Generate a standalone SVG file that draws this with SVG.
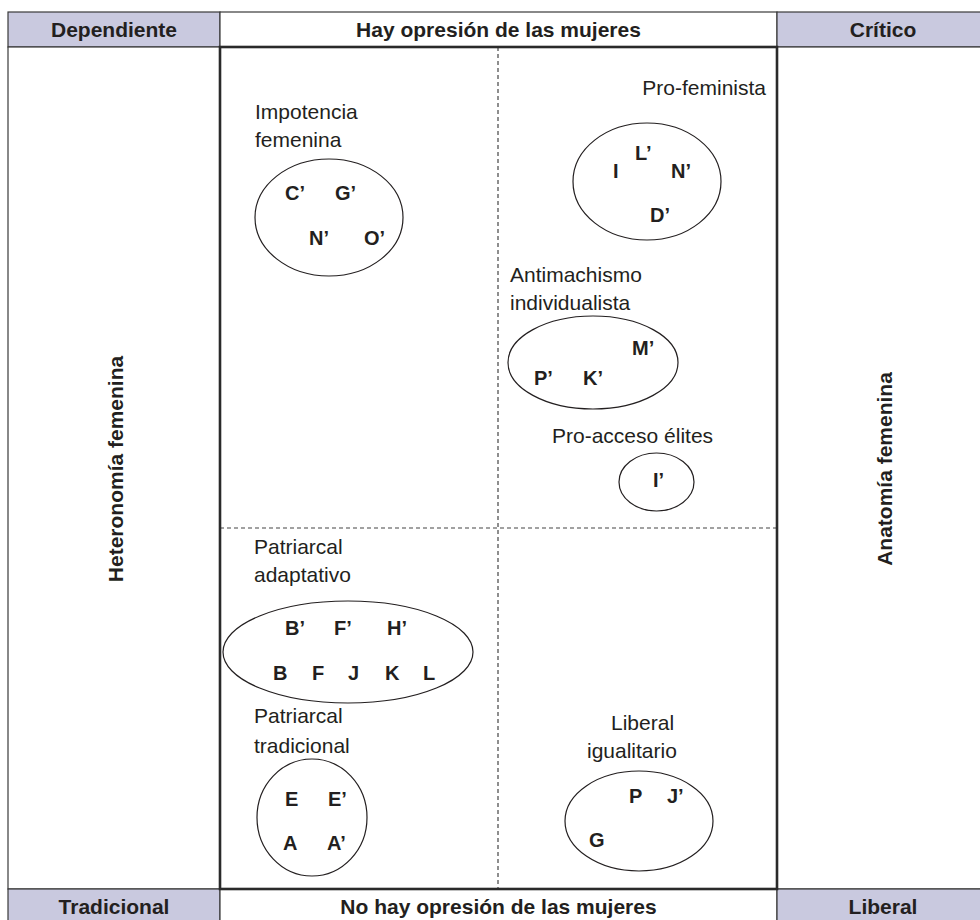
<svg xmlns="http://www.w3.org/2000/svg" width="980" height="920" viewBox="0 0 980 920">
<style>
.cell{fill:#c9c9df;stroke:#3a3a3a;stroke-width:1.2}
.wcell{fill:#ffffff;stroke:#3a3a3a;stroke-width:1.2}
.hd{font-family:"Liberation Sans",Arial,sans-serif;font-weight:bold;font-size:21px;fill:#231f20;text-anchor:middle}
.lbl{font-family:"Liberation Sans",Arial,sans-serif;font-size:21px;fill:#231f20}
.ltr{font-family:"Liberation Sans",Arial,sans-serif;font-weight:bold;font-size:20px;fill:#231f20}
.ell{fill:none;stroke:#231f20;stroke-width:1.2}
.dash{stroke:#444;stroke-width:1.2;stroke-dasharray:4 3;fill:none}
.box{fill:none;stroke:#2a2a2a;stroke-width:2.6}
</style>
<rect width="980" height="920" fill="#ffffff"/>
<g id="frame">
  <rect class="cell" x="8" y="12" width="212" height="35"/>
  <rect class="wcell" x="220" y="12" width="557" height="35"/>
  <rect class="cell" x="777" y="12" width="212" height="35"/>
  <rect class="wcell" x="8" y="47" width="212" height="842"/>
  <rect class="wcell" x="777" y="47" width="212" height="842"/>
  <rect class="cell" x="8" y="889" width="212" height="36"/>
  <rect class="wcell" x="220" y="889" width="557" height="36"/>
  <rect class="cell" x="777" y="889" width="212" height="36"/>
  <line class="dash" x1="498" y1="47" x2="498" y2="889"/>
  <line class="dash" x1="220" y1="528" x2="777" y2="528"/>
  <rect class="box" x="220" y="47" width="557" height="842"/>
</g>
<g id="headers">
  <text class="hd" x="114" y="37">Dependiente</text>
  <text class="hd" x="498.5" y="37">Hay opresión de las mujeres</text>
  <text class="hd" x="883" y="37">Crítico</text>
  <text class="hd" x="114" y="914">Tradicional</text>
  <text class="hd" x="498.5" y="914">No hay opresión de las mujeres</text>
  <text class="hd" x="883" y="914">Liberal</text>
  <text class="hd" transform="translate(123,469) rotate(-90)">Heteronomía femenina</text>
  <text class="hd" transform="translate(892,469) rotate(-90)">Anatomía femenina</text>
</g>
<g id="impotencia">
  <text class="lbl" x="255" y="119">Impotencia</text>
  <text class="lbl" x="255" y="147">femenina</text>
  <ellipse class="ell" cx="329" cy="217.5" rx="74" ry="58.5"/>
  <text class="ltr" x="285" y="200">C’</text>
  <text class="ltr" x="335" y="200">G’</text>
  <text class="ltr" x="309" y="245">N’</text>
  <text class="ltr" x="364" y="245">O’</text>
</g>
<g id="profeminista">
  <text class="lbl" x="766" y="95" text-anchor="end">Pro-feminista</text>
  <ellipse class="ell" cx="647" cy="181.5" rx="74" ry="58.5"/>
  <text class="ltr" x="613" y="178">I</text>
  <text class="ltr" x="635" y="160">L’</text>
  <text class="ltr" x="671" y="178">N’</text>
  <text class="ltr" x="650" y="222">D’</text>
</g>
<g id="antimachismo">
  <text class="lbl" x="510" y="282">Antimachismo</text>
  <text class="lbl" x="510" y="310">individualista</text>
  <ellipse class="ell" cx="593" cy="362.5" rx="85" ry="46.5"/>
  <text class="ltr" x="632" y="355">M’</text>
  <text class="ltr" x="534" y="385">P’</text>
  <text class="ltr" x="583" y="385">K’</text>
</g>
<g id="proacceso">
  <text class="lbl" x="552" y="443">Pro-acceso élites</text>
  <ellipse class="ell" cx="656.5" cy="482" rx="37.5" ry="29"/>
  <text class="ltr" x="653" y="487">I’</text>
</g>
<g id="patriarcal-adaptativo">
  <text class="lbl" x="254" y="554">Patriarcal</text>
  <text class="lbl" x="254" y="582">adaptativo</text>
  <ellipse class="ell" cx="348" cy="652" rx="125" ry="51"/>
  <text class="ltr" x="285" y="635">B’</text>
  <text class="ltr" x="334" y="635">F’</text>
  <text class="ltr" x="387" y="635">H’</text>
  <text class="ltr" x="273" y="680">B</text>
  <text class="ltr" x="312" y="680">F</text>
  <text class="ltr" x="348" y="680">J</text>
  <text class="ltr" x="385" y="680">K</text>
  <text class="ltr" x="423" y="680">L</text>
</g>
<g id="patriarcal-tradicional">
  <text class="lbl" x="254" y="723">Patriarcal</text>
  <text class="lbl" x="254" y="753">tradicional</text>
  <ellipse class="ell" cx="312" cy="817.5" rx="55" ry="58.5"/>
  <text class="ltr" x="285" y="806">E</text>
  <text class="ltr" x="328" y="806">E’</text>
  <text class="ltr" x="283" y="850">A</text>
  <text class="ltr" x="327" y="850">A’</text>
</g>
<g id="liberal-igualitario">
  <text class="lbl" x="611" y="730">Liberal</text>
  <text class="lbl" x="587" y="758">igualitario</text>
  <ellipse class="ell" cx="639" cy="821" rx="74" ry="50"/>
  <text class="ltr" x="629" y="803">P</text>
  <text class="ltr" x="667" y="803">J’</text>
  <text class="ltr" x="589" y="847">G</text>
</g>
<g id="connectors"/>
</svg>
